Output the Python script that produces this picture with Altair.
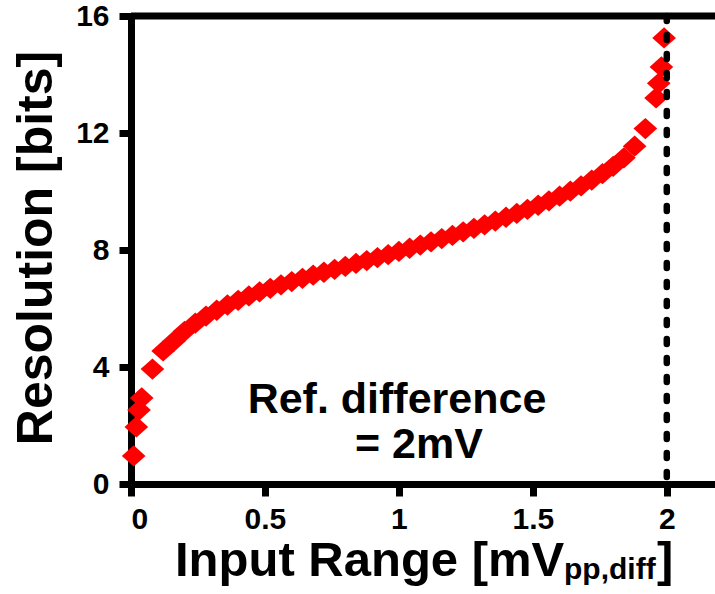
import altair as alt
import pandas as pd

# ---- data ----
input_range = [0.01, 0.02, 0.03, 0.04, 0.08, 0.12,
               0.16, 0.20, 0.24, 0.28, 0.32, 0.36, 0.40, 0.44, 0.48, 0.52,
               0.56, 0.60, 0.64, 0.68, 0.72, 0.76, 0.80, 0.84, 0.88, 0.92,
               0.96, 1.00, 1.04, 1.08, 1.12, 1.16, 1.20, 1.24, 1.28, 1.32,
               1.36, 1.40, 1.44, 1.48, 1.52, 1.56, 1.60, 1.64, 1.68, 1.72,
               1.76, 1.80, 1.84, 1.88, 1.92, 1.96, 1.97, 1.98, 1.99]
resolution = [0.96, 1.95, 2.53, 2.94, 3.93, 4.55,
              4.88, 5.22, 5.50, 5.74, 5.94, 6.12, 6.28, 6.43, 6.57, 6.69,
              6.81, 6.92, 7.03, 7.14, 7.24, 7.34, 7.44, 7.54, 7.64, 7.74,
              7.84, 7.95, 8.06, 8.17, 8.28, 8.39, 8.50, 8.62, 8.74, 8.86,
              8.99, 9.12, 9.25, 9.39, 9.53, 9.68, 9.84, 10.01, 10.19, 10.39,
              10.61, 10.86, 11.15, 11.55, 12.15, 13.2, 13.7, 14.26, 15.25]

x_ticks = [0, 0.5, 1, 1.5, 2]
y_ticks = [0, 4, 8, 12, 16]
ref_line_x = [2.0]
top_frame_y = [16]

y_title = ["Resolution [bits]"]
x_title_main = ["Input Range [mV"]
x_title_sub = ["pp,diff"]
x_title_end = ["]"]
note_line1 = ["Ref. difference"]
note_line2 = ["= 2mV"]

FONT = "Liberation Sans"
W, H = 584, 468

df = pd.DataFrame({"x": input_range, "y": resolution})

xscale = alt.Scale(domain=[0, 2.18], nice=False, zero=False)
yscale = alt.Scale(domain=[0, 16], nice=False)

axis_common = dict(
    domainColor="black", domainWidth=7, tickColor="black", tickWidth=7,
    tickSize=12, labelFont=FONT, labelFontWeight="bold", labelFontSize=30,
    labelColor="black", grid=False, title=None, format="~g",
)

diamond = "M-1,0L0,-0.9L1,0L0,0.9Z"

points = alt.Chart(df).mark_point(
    shape=diamond, filled=True, color="#ff0000", opacity=1, size=560, strokeWidth=0
).encode(
    x=alt.X("x:Q", scale=xscale,
            axis=alt.Axis(values=x_ticks, labelPadding=8, **axis_common)),
    y=alt.Y("y:Q", scale=yscale,
            axis=alt.Axis(values=y_ticks, labelPadding=10, **axis_common)),
)

top_frame = alt.Chart(pd.DataFrame({"y": top_frame_y})).mark_rule(
    color="black", strokeWidth=7
).encode(y=alt.Y("y:Q", scale=yscale))

ref_line = alt.Chart(pd.DataFrame({"x": ref_line_x})).mark_rule(
    color="black", strokeWidth=6.5, strokeDash=[5, 14], strokeCap="round"
).encode(x=alt.X("x:Q", scale=xscale))


def label(texts, x, y, size, align="left", baseline="alphabetic", angle=None):
    kw = dict(font=FONT, fontWeight="bold", fontSize=size, color="black",
              align=align, baseline=baseline)
    if angle is not None:
        kw["angle"] = angle
    return alt.Chart(pd.DataFrame({"t": texts})).mark_text(**kw).encode(
        text="t:N", x=alt.value(x), y=alt.value(y))


texts = [
    label(y_title, -94, 232, 50, align="center", baseline="middle", angle=270),
    label(x_title_main, 44, 560, 49),
    label(x_title_sub, 433, 563, 30),
    label(x_title_end, 526, 560, 49),
    label(note_line1, 266, 397, 43, align="center"),
    label(note_line2, 288, 442, 43, align="center"),
]

chart = alt.layer(points, top_frame, ref_line, *texts).properties(
    width=W, height=H,
    autosize=alt.AutoSizeParams(type="none"),
    padding={"left": 131, "top": 16, "right": 0, "bottom": 110},
).configure_view(stroke=None).configure(background="white")

chart.save("out.html", embed_options={"renderer": "svg", "actions": False})
